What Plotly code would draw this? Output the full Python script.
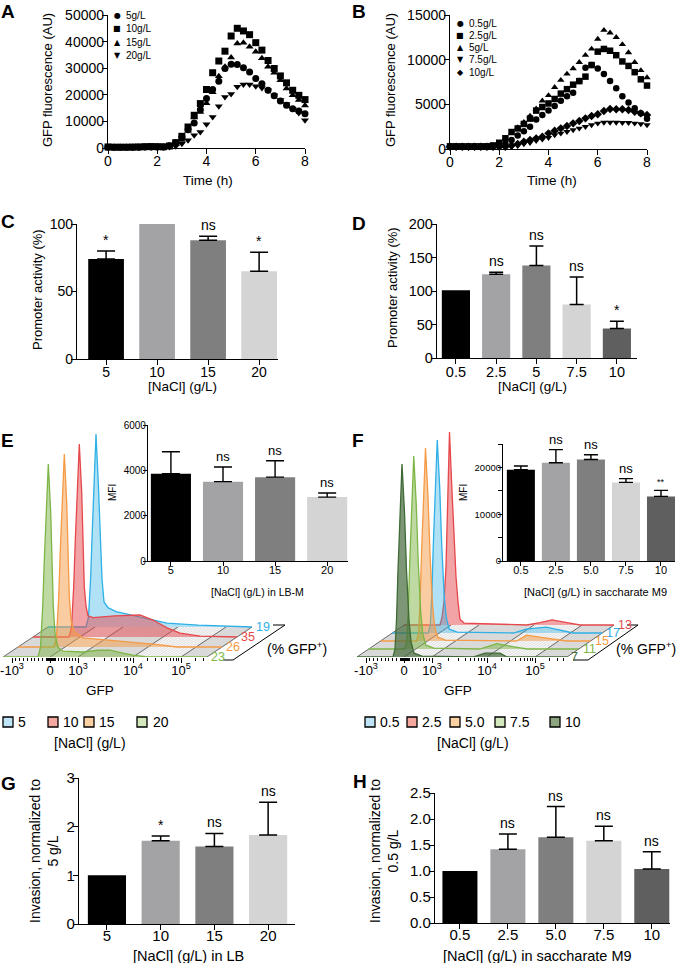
import math
import plotly.graph_objects as go

W, H = 680, 963
FONT = "Liberation Sans, Arial, Helvetica, sans-serif"
SYMF = "DejaVu Sans, sans-serif"


def fx(p):
    return p / W


def fy(p):
    return 1 - p / H


# ---------------- DATA ----------------
time_h = [0, 0.25, 0.5, 0.75, 1, 1.25, 1.5, 1.75, 2, 2.25, 2.5, 2.75, 3, 3.25, 3.5, 3.75, 4,
          4.25, 4.5, 4.75, 5, 5.25, 5.5, 5.75, 6, 6.25, 6.5, 6.75, 7, 7.25, 7.5, 7.75, 8]

# Panel A (LB)
A_names = ["5g/L", "10g/L", "15g/L", "20g/L"]
A_5 = [300, 250, 250, 250, 250, 300, 350, 350, 400, 350, 800, 2000, 4100, 6900, 9400, 14400, 18600,
       22000, 25100, 29900, 31500, 31400, 30200, 28600, 26100, 24200, 21700, 19600, 17700, 16100,
       14800, 13900, 12900]
A_10 = [400, 300, 300, 300, 350, 400, 500, 550, 500, 450, 750, 2000, 4400, 7900, 12300, 16700, 22000,
        28300, 32700, 36400, 42100, 45000, 44000, 42600, 39600, 36800, 32900, 29900, 27100, 24500,
        21700, 19800, 18200]
A_15 = [300, 250, 250, 250, 300, 350, 400, 400, 450, 400, 600, 1500, 3000, 6500, 11500, 13500, 16800,
        21000, 27000, 30500, 34000, 39300, 39600, 38100, 36200, 33700, 30500, 28300, 25500, 22400,
        19800, 18000, 16000]
A_20 = [200, 200, 200, 200, 200, 250, 300, 300, 300, 300, 400, 700, 1600, 2900, 4800, 6000, 8900,
        11700, 15700, 19200, 20300, 23000, 23900, 23900, 23200, 22600, 21700, 19800, 18000, 16500,
        14800, 13200, 10400]

# Panel B (saccharate M9)
B_names = ["0.5g/L", "2.5g/L", "5g/L", "7.5g/L", "10g/L"]
B_05 = [250, 250, 250, 250, 250, 250, 250, 300, 400, 600, 1000, 1500, 2000, 2500, 3300, 3800, 4300,
        4800, 5400, 5900, 6300, 7600, 9100, 9400, 9000, 8400, 7600, 6800, 5900, 5200, 4550, 4000, 3400]
B_25 = [300, 300, 300, 300, 300, 300, 300, 400, 700, 1200, 1900, 2300, 2800, 3400, 4300, 4700, 5100,
        5600, 6200, 6700, 7200, 7600, 8100, 9400, 10900, 11200, 11000, 10500, 9800, 9300, 8600, 7800, 7100]
B_5 = [300, 300, 300, 300, 300, 300, 300, 300, 600, 1200, 1800, 2400, 3000, 3700, 4500, 5400, 6000,
       6900, 7700, 8400, 9000, 9700, 10500, 11200, 12300, 13300, 13000, 12500, 11700, 10800, 9700, 8800, 8000]
B_75 = [200, 200, 200, 200, 200, 200, 200, 200, 200, 200, 250, 370, 560, 710, 930, 1080, 1270,
        1570, 1750, 1940, 2130, 2310, 2500, 2690, 2870, 2980, 2980, 2980, 2950, 2950, 2870, 2800, 2690]
B_10 = [250, 250, 250, 250, 250, 250, 250, 250, 250, 250, 400, 560, 820, 1010, 1190, 1380, 1750,
        2050, 2310, 2570, 2870, 3130, 3430, 3690, 3880, 4250, 4480, 4440, 4440, 4360, 4180, 3990, 3800]

# Panel C
C_cats = ["5", "10", "15", "20"]
C_vals = [74, 100, 88, 65]
C_err = [6, None, 3, 14]
C_sig = ["*", "", "ns", "*"]

# Panel D
D_cats = ["0.5", "2.5", "5", "7.5", "10"]
D_vals = [101, 125, 138, 80, 44]
D_err = [None, 3, 29, 41, 11]
D_sig = ["", "ns", "ns", "ns", "*"]

# Panel E inset (MFI, LB-M)
E_cats = ["5", "10", "15", "20"]
E_vals = [3850, 3500, 3700, 2820]
E_err = [970, 650, 720, 180]
E_sig = ["", "ns", "ns", "ns"]
E_pct = [19, 35, 26, 23]          # % GFP+ for 5, 10, 15, 20

# Panel E histograms (channel position along GFP axis, normalised count; peak = 100)
E_c_5 = [0, 38, 40.5, 42.7, 44.3, 46, 48, 50.5, 52, 54, 56, 60, 68, 88, 119, 150, 202, 204]
E_h_5 = [0, 0, 5, 26, 50, 75, 100, 72, 48, 25, 13, 10, 8, 5.5, 2, 1, 0, 0]
E_c_10 = [0, 36, 38.5, 40.7, 42.3, 44, 46.3, 48.7, 49.7, 51.3, 53, 55, 60, 82, 107, 120, 134, 147, 167, 204]
E_h_10 = [0, 0, 5, 26, 50, 75, 100, 75, 50, 26, 16, 11, 10, 10.9, 11.4, 8.8, 4.7, 2, 0.5, 0]
E_c_15 = [0, 36, 38.5, 40.7, 42.3, 44, 46.3, 48.7, 49.7, 51.3, 53, 56, 65, 90, 115, 140, 159, 204]
E_h_15 = [0, 0, 5, 26, 50, 75, 100, 75, 50, 26, 14, 8, 4.7, 3.5, 2.6, 1.2, 0, 0]
E_c_20 = [0, 35, 37.5, 39.7, 41.3, 43, 45.3, 47.7, 48.7, 50.3, 52, 55, 60, 80, 95, 107, 120, 130, 144, 204]
E_h_20 = [0, 0, 5, 26, 50, 75, 100, 75, 50, 26, 12, 5, 3, 2.6, 3.5, 3.6, 2, 1, 0, 0]

# Panel F inset (MFI, saccharate M9)
F_cats = ["0.5", "2.5", "5.0", "7.5", "10"]
F_vals = [19500, 21000, 21700, 16800, 13800]
F_err = [800, 2800, 1000, 800, 1300]
F_sig = ["", "ns", "ns", "ns", "**"]
F_pct = [17, 13, 15, 11, 7]       # % GFP+ for 0.5, 2.5, 5.0, 7.5, 10

# Panel F histograms
F_c_05 = [0, 36, 38, 39.5, 41, 43, 45, 47.5, 49.5, 52, 54, 57, 65, 121, 134, 154, 168, 181, 210]
F_h_05 = [0, 0, 4, 19, 45, 75, 100, 75, 45, 19, 8, 2, 0.5, 0, 2, 3, 1.5, 0, 0]
F_c_25 = [0, 36, 38, 40, 42, 44, 45.5, 47.5, 50, 52, 54, 56, 60, 123, 136, 148, 163, 176, 210]
F_h_25 = [0, 0, 4, 12, 30, 70, 100, 75, 45, 25, 12, 3, 1, 0, 1.2, 2.6, 1.2, 0, 0]
F_c_50 = [0, 36, 38, 39.5, 41, 43, 45, 47.5, 49.5, 52, 54, 57, 65, 136, 146, 159, 173, 186, 210]
F_h_50 = [0, 0, 4, 19, 45, 75, 100, 75, 45, 19, 8, 2, 0.5, 0, 3, 2, 1, 0, 0]
F_c_75 = [0, 36, 38, 39.5, 41, 43, 45, 47.5, 49.5, 52, 54, 57, 65, 111, 128, 144, 158, 210]
F_h_75 = [0, 0, 4, 19, 45, 75, 100, 75, 45, 19, 8, 2, 0.5, 0, 2.8, 1.2, 0, 0]
F_c_10 = [0, 36, 38, 39.5, 41, 43, 45, 47.5, 49.5, 52, 54, 57, 65, 116, 128, 143, 150, 210]
F_h_10 = [0, 0, 4, 19, 45, 75, 100, 75, 45, 19, 8, 2, 0.5, 0, 2, 2, 0, 0]

GFP_tick_text = ["-10<sup>3</sup>", "0", "10<sup>3</sup>", "10<sup>4</sup>", "10<sup>5</sup>"]
GFP_tick_pos = [9, 47, 75, 130, 178]

# Panel G
G_cats = ["5", "10", "15", "20"]
G_vals = [1.0, 1.71, 1.59, 1.83]
G_err = [None, 0.10, 0.27, 0.67]
G_sig = ["", "*", "ns", "ns"]

# Panel H
H_cats = ["0.5", "2.5", "5.0", "7.5", "10"]
H_vals = [1.0, 1.42, 1.65, 1.58, 1.04]
H_err = [None, 0.29, 0.59, 0.28, 0.33]
H_sig = ["", "ns", "ns", "ns", "ns"]

# ---------------- STYLE ----------------
GRAYS4 = ["#000000", "#a3a3a6", "#7f7f7f", "#d4d4d4"]
GRAYS5 = ["#000000", "#a3a3a6", "#7f7f7f", "#d4d4d4", "#5f5f5f"]
COL = {
    "blue": ("#2fb0e6", "rgba(47,176,230,0.38)", "#bfe4f6"),
    "red": ("#e5474b", "rgba(229,71,75,0.50)", "#f4a79d"),
    "orange": ("#f59a45", "rgba(245,154,69,0.50)", "#fbd1a2"),
    "green": ("#7db646", "rgba(125,182,70,0.50)", "#d3e8bd"),
    "dkgreen": ("#3e6a35", "rgba(70,105,60,0.70)", "#8ca57e"),
}

fig = go.Figure()
annotations = []
shapes = []
layout = dict(width=W, height=H, margin=dict(l=0, r=0, t=0, b=0, pad=0, autoexpand=False),
              paper_bgcolor="white", plot_bgcolor="rgba(0,0,0,0)", showlegend=False,
              barmode="overlay", font=dict(family=FONT, color="black"))


def axis(dom, rng, anchor, size=14, **kw):
    d = dict(domain=dom, range=rng, anchor=anchor, showline=True, linecolor="black", linewidth=1.3,
             ticks="outside", ticklen=5, tickwidth=1.3, tickcolor="black", showgrid=False,
             zeroline=False, fixedrange=True, automargin=False, tickformat="d",
             ticklabelstandoff=-5, ticklabeloverflow="allow",
             tickfont=dict(family=FONT, size=size, color="black"))
    d.update(kw)
    return d


def txt(x, y, s, size=13, angle=0, xanchor="center", yanchor="middle", color="black",
        family=FONT, xref="paper", yref="paper", yshift=0, xshift=0):
    if xref == "paper":
        x = fx(x)
    if yref == "paper":
        y = fy(y)
    annotations.append(dict(x=x, y=y, xref=xref, yref=yref, text=s, showarrow=False,
                            textangle=angle, xanchor=xanchor, yanchor=yanchor, yshift=yshift,
                            xshift=xshift, font=dict(family=family, size=size, color=color)))


def pline(x0, y0, x1, y1, color="black", width=1.0):
    shapes.append(dict(type="line", xref="paper", yref="paper", x0=fx(x0), y0=fy(y0), x1=fx(x1),
                       y1=fy(y1), line=dict(color=color, width=width)))


# ---------- A & B: time courses ----------
layout["xaxis"] = axis([fx(108), fx(305)], [0, 8], "y", tickvals=[0, 2, 4, 6, 8])
layout["yaxis"] = axis([fy(148), fy(15)], [0, 50000], "x", tickvals=[0, 10000, 20000, 30000, 40000, 50000])
layout["xaxis2"] = axis([fx(450), fx(647)], [0, 8], "y2", tickvals=[0, 2, 4, 6, 8])
layout["yaxis2"] = axis([fy(149), fy(15)], [0, 15000], "x2", tickvals=[0, 5000, 10000, 15000])

A_series = [A_5, A_10, A_15, A_20]
A_sym = ["circle", "square", "triangle-up", "triangle-down"]
A_glyph = ["●", "■", "▲", "▼"]
for s, sym, nm in zip(A_series, A_sym, A_names):
    fig.add_trace(go.Scatter(x=time_h, y=s, mode="markers", name=nm, cliponaxis=False,
                             marker=dict(symbol=sym, size=7, color="black"), xaxis="x", yaxis="y"))
B_series = [B_05, B_25, B_5, B_75, B_10]
B_sym = ["circle", "square", "triangle-up", "triangle-down", "diamond"]
B_glyph = ["●", "■", "▲", "▼", "◆"]
for s, sym, nm in zip(B_series, B_sym, B_names):
    fig.add_trace(go.Scatter(x=time_h, y=s, mode="markers", name=nm, cliponaxis=False,
                             marker=dict(symbol=sym, size=6.5, color="black"), xaxis="x2", yaxis="y2"))

for i, (g, nm) in enumerate(zip(A_glyph, A_names)):
    yy = 15 + i * 13.5
    txt(117, yy, g, size=8, family=SYMF)
    txt(124, yy, nm, size=10, xanchor="left")
for i, (g, nm) in enumerate(zip(B_glyph, B_names)):
    yy = 23 + i * 12.3
    txt(460, yy, g, size=8, family=SYMF)
    txt(467, yy, nm, size=10, xanchor="left")

txt(47, 80, "GFP fluorescence (AU)", size=13, angle=-90)
txt(208, 180, "Time (h)", size=13.5)
txt(390, 80, "GFP fluorescence (AU)", size=13, angle=-90)
txt(552, 180, "Time (h)", size=13.5)


# ---------- bar helper ----------
def bars(n, cats, vals, errs, colors, width, sig, capw, sigsize=14, thick=1.5):
    pos = list(range(len(cats)))
    layout[f"xaxis{n}"]["tickvals"] = pos
    layout[f"xaxis{n}"]["ticktext"] = cats
    for p, v, e, col in zip(pos, vals, errs, colors):
        tr = go.Bar(x=[p], y=[v], width=[width], marker=dict(color=col, line=dict(width=0)),
                    xaxis=f"x{n}", yaxis=f"y{n}")
        if e is not None:
            tr.error_y = dict(type="data", symmetric=False, array=[e], arrayminus=[0],
                              color="black", thickness=thick, width=capw)
        fig.add_trace(tr)
    for p, v, e, s in zip(pos, vals, errs, sig):
        if s:
            annotations.append(dict(x=p, y=v + (e or 0), xref=f"x{n}", yref=f"y{n}", text=s,
                                    showarrow=False, yanchor="bottom", yshift=1,
                                    font=dict(family=FONT, size=sigsize, color="black")))


# C
layout["xaxis3"] = axis([fx(77), fx(278)], [-0.57, 3.37], "y3")
layout["yaxis3"] = axis([fy(359), fy(224)], [0, 100], "x3", tickvals=[0, 50, 100])
bars(3, C_cats, C_vals, C_err, GRAYS4, 0.7, C_sig, 9)
txt(38, 290, "Promoter activity (%)", size=13, angle=-90)
txt(182, 386, "[NaCl] (g/L)", size=13.5)

# D
layout["xaxis4"] = axis([fx(437), fx(637)], [-0.47, 4.5], "y4", size=14.5)
layout["yaxis4"] = axis([fy(358), fy(224)], [0, 200], "x4", tickvals=[0, 50, 100, 150, 200], size=14.5)
bars(4, D_cats, D_vals, D_err, GRAYS5, 0.7, D_sig, 7)
txt(392, 287, "Promoter activity (%)", size=13, angle=-90)
txt(532, 386, "[NaCl] (g/L)", size=13.5)


# ---------- E & F histograms ----------
def minor_ticks(end):
    t = []
    a, z = GFP_tick_pos[0], GFP_tick_pos[1]
    for k in range(1, 10):
        t.append(z - (z - a) * k / 10)
    for k in range(1, 10):
        t.append(z + (GFP_tick_pos[2] - z) * k / 10)
    for i in (2, 3):
        lo, hi = GFP_tick_pos[i], GFP_tick_pos[i + 1]
        for k in range(2, 10):
            t.append(lo + (hi - lo) * math.log10(k))
    lo, step = GFP_tick_pos[4], GFP_tick_pos[4] - GFP_tick_pos[3]
    for k in range(2, 10):
        v = lo + step * math.log10(k)
        if v < end:
            t.append(v)
    for d in (-3, -2, -1, 1, 2, 3, 4):
        t.append(GFP_tick_pos[1] + d)
    return t


def histo(n, layers, end, dx, dy_px, pcts, dom_x, c0):
    kmax = len(layers) - 1
    u = 1.93                      # px per count unit
    dyu = dy_px / u
    yr = (657 - 420) / u
    layout[f"xaxis{n}"] = dict(domain=[fx(dom_x[0]), fx(dom_x[1])],
                               range=[dom_x[0] - c0, dom_x[1] - c0], anchor=f"y{n}",
                               showline=False, showgrid=False, zeroline=False, fixedrange=True,
                               automargin=False, ticklabelstandoff=-4, ticklabeloverflow="allow",
                               ticks="outside", ticklen=5, tickwidth=1.2, tickcolor="black",
                               tickvals=GFP_tick_pos, ticktext=GFP_tick_text,
                               tickfont=dict(family=FONT, size=13, color="black"),
                               minor=dict(tickvals=minor_ticks(end), ticklen=3, tickwidth=0.8,
                                          tickcolor="black", ticks="outside"))
    layout[f"yaxis{n}"] = dict(domain=[fy(657), fy(420)], range=[0, yr], anchor=f"x{n}",
                               visible=False, fixedrange=True, automargin=False)
    # floor cells
    bounds = [0] + GFP_tick_pos[1:] + [end]
    fills = ["#dedede", "#f7f7f7", "#dedede", "#f7f7f7", "#dedede"]
    for i in range(len(bounds) - 1):
        a, b = bounds[i], bounds[i + 1]
        path = (f"M {a},0 L {b},0 L {b + kmax * dx},{kmax * dyu} "
                f"L {a + kmax * dx},{kmax * dyu} Z")
        shapes.append(dict(type="path", path=path, xref=f"x{n}", yref=f"y{n}", layer="below",
                           fillcolor=fills[i], line=dict(width=0)))
    # fine hatching of the floor (parallel to the depth direction)
    h = 3.0
    while h < end:
        shapes.append(dict(type="line", xref=f"x{n}", yref=f"y{n}", layer="below",
                           x0=h, y0=0, x1=h + kmax * dx, y1=kmax * dyu,
                           line=dict(color="#c8c8c8", width=0.5)))
        h += 3.5
    for b in bounds:
        shapes.append(dict(type="line", xref=f"x{n}", yref=f"y{n}", layer="below",
                           x0=b, y0=0, x1=b + kmax * dx, y1=kmax * dyu,
                           line=dict(color="#444444", width=0.8)))
    # layers back to front
    for k in range(kmax, -1, -1):
        cs, hs, key = layers[k]
        line, fill, _ = COL[key]
        fig.add_trace(go.Scatter(x=[c + k * dx for c in cs], y=[hh + k * dyu for hh in hs],
                                 mode="lines", fill="toself", fillcolor=fill,
                                 line=dict(color=line, width=1.3), hoverinfo="skip",
                                 xaxis=f"x{n}", yaxis=f"y{n}"))
        annotations.append(dict(x=end + k * dx, y=k * dyu, xref=f"x{n}", yref=f"y{n}",
                                text=str(pcts[k]), showarrow=False, xanchor="left",
                                yanchor="middle", xshift=2,
                                font=dict(family=FONT, size=12.5, color=line)))


E_layers = [(E_c_20, E_h_20, "green"), (E_c_15, E_h_15, "orange"),
            (E_c_10, E_h_10, "red"), (E_c_5, E_h_5, "blue")]
E_pct_front = [E_pct[3], E_pct[2], E_pct[1], E_pct[0]]
histo(5, E_layers, 204, 15, 10, E_pct_front, (0, 340), 3)

F_layers = [(F_c_10, F_h_10, "dkgreen"), (F_c_75, F_h_75, "green"), (F_c_50, F_h_50, "orange"),
            (F_c_05, F_h_05, "blue"), (F_c_25, F_h_25, "red")]
F_pct_front = [F_pct[4], F_pct[3], F_pct[2], F_pct[0], F_pct[1]]
histo(7, F_layers, 210, 11.75, 8, F_pct_front, (340, 680), 357)

# brackets and labels
pline(223, 660, 233, 660); pline(233, 660, 285, 625); pline(285, 625, 273, 625)
pline(573, 660, 588, 660); pline(588, 660, 638, 625); pline(638, 625, 627, 625)
txt(297, 648, "(% GFP<sup>+</sup>)", size=14)
txt(646, 648, "(% GFP<sup>+</sup>)", size=14)
txt(100, 690, "GFP", size=13.5)
txt(458, 690, "GFP", size=13.5)

# E inset
layout["xaxis6"] = axis([fx(148), fx(348)], [-0.44, 3.4], "y6", size=11,
                        linewidth=1.2, tickwidth=1.2, ticklen=4)
layout["yaxis6"] = axis([fy(561), fy(425)], [0, 6000], "x6", tickvals=[0, 2000, 4000, 6000],
                        size=10, linewidth=1.2, tickwidth=1.2, ticklen=4)
bars(6, E_cats, E_vals, E_err, GRAYS4, 0.77, E_sig, 9, sigsize=13, thick=1.4)
txt(112, 493, "MFI", size=10, angle=-90)
txt(257, 592, "[NaCl] (g/L) in LB-M", size=10.5)

# F inset
layout["xaxis8"] = axis([fx(503), fx(675)], [-0.51, 4.4], "y8", size=11,
                        linewidth=1.2, tickwidth=1.2, ticklen=4)
layout["yaxis8"] = axis([fy(561), fy(444)], [0, 25000], "x8", tickvals=[0, 10000, 20000],
                        size=9.5, linewidth=1.2, tickwidth=1.2, ticklen=4,
                        minor=dict(tickvals=[5000, 15000, 25000], ticklen=4, tickwidth=1.2,
                                   tickcolor="black", ticks="outside"))
bars(8, F_cats, F_vals, F_err, GRAYS5, 0.8, F_sig, 7, sigsize=13, thick=1.4)
for a in annotations:
    if a.get("xref") == "x8" and a["text"] == "**":
        a["font"]["size"] = 9
txt(463, 493, "MFI", size=10, angle=-90)
txt(595, 592, "[NaCl] (g/L) in saccharate M9", size=11)

# legends E / F
for xs, tx, lab, key in zip([3, 48, 84, 137], [16, 61, 97, 151], E_cats,
                            ["blue", "red", "orange", "green"]):
    shapes.append(dict(type="rect", xref="paper", yref="paper", x0=fx(xs), x1=fx(xs + 10),
                       y0=fy(727), y1=fy(717), fillcolor=COL[key][2],
                       line=dict(color="black", width=1.3)))
    txt(tx, 722, lab, size=14, xanchor="left")
txt(90, 743, "[NaCl] (g/L)", size=14)
for xs, tx, lab, key in zip([365, 407, 450, 495, 550], [378, 420, 463, 508, 563], F_cats,
                            ["blue", "red", "orange", "green", "dkgreen"]):
    shapes.append(dict(type="rect", xref="paper", yref="paper", x0=fx(xs), x1=fx(xs + 10),
                       y0=fy(727), y1=fy(717), fillcolor=COL[key][2],
                       line=dict(color="black", width=1.3)))
    txt(tx, 722, lab, size=14, xanchor="left")
txt(473, 743, "[NaCl] (g/L)", size=14)

# G
layout["xaxis9"] = axis([fx(79), fx(295)], [-0.52, 3.5], "y9", size=15, ticklabelstandoff=-7)
layout["yaxis9"] = axis([fy(924), fy(778)], [0, 3], "x9", tickvals=[0, 1, 2, 3], size=15)
bars(9, G_cats, G_vals, G_err, GRAYS4, 0.71, G_sig, 9)
txt(44, 851, "Invasion, normalized to<br>5 g/L", size=14, angle=-90)
txt(188, 956, "[NaCl] (g/L) in LB", size=14.5)

# H
layout["xaxis10"] = axis([fx(435), fx(670)], [-0.52, 4.38], "y10", size=15, ticklabelstandoff=-7)
layout["yaxis10"] = axis([fy(923), fy(793)], [0, 2.5], "x10", tickvals=[0, 0.5, 1, 1.5, 2, 2.5],
                         ticktext=["0.0", "0.5", "1.0", "1.5", "2.0", "2.5"], size=15)
bars(10, H_cats, H_vals, H_err, GRAYS5, 0.73, H_sig, 9)
txt(384, 851, "Invasion, normalized to<br>0.5 g/L", size=14, angle=-90)
txt(537, 956, "[NaCl] (g/L) in saccharate M9", size=14.5)

# panel letters
for L, x, y in [("A", 8, 11), ("B", 359, 11), ("C", 8, 221), ("D", 359, 224), ("E", 7, 440),
                ("F", 358, 440), ("G", 8, 783), ("H", 360, 781)]:
    txt(x, y, f"<b>{L}</b>", size=19)

layout["annotations"] = annotations
layout["shapes"] = shapes
fig.update_layout(**layout)
fig.write_html("out.html", config={"displayModeBar": False},
               post_script="document.body.style.margin='0px';")
